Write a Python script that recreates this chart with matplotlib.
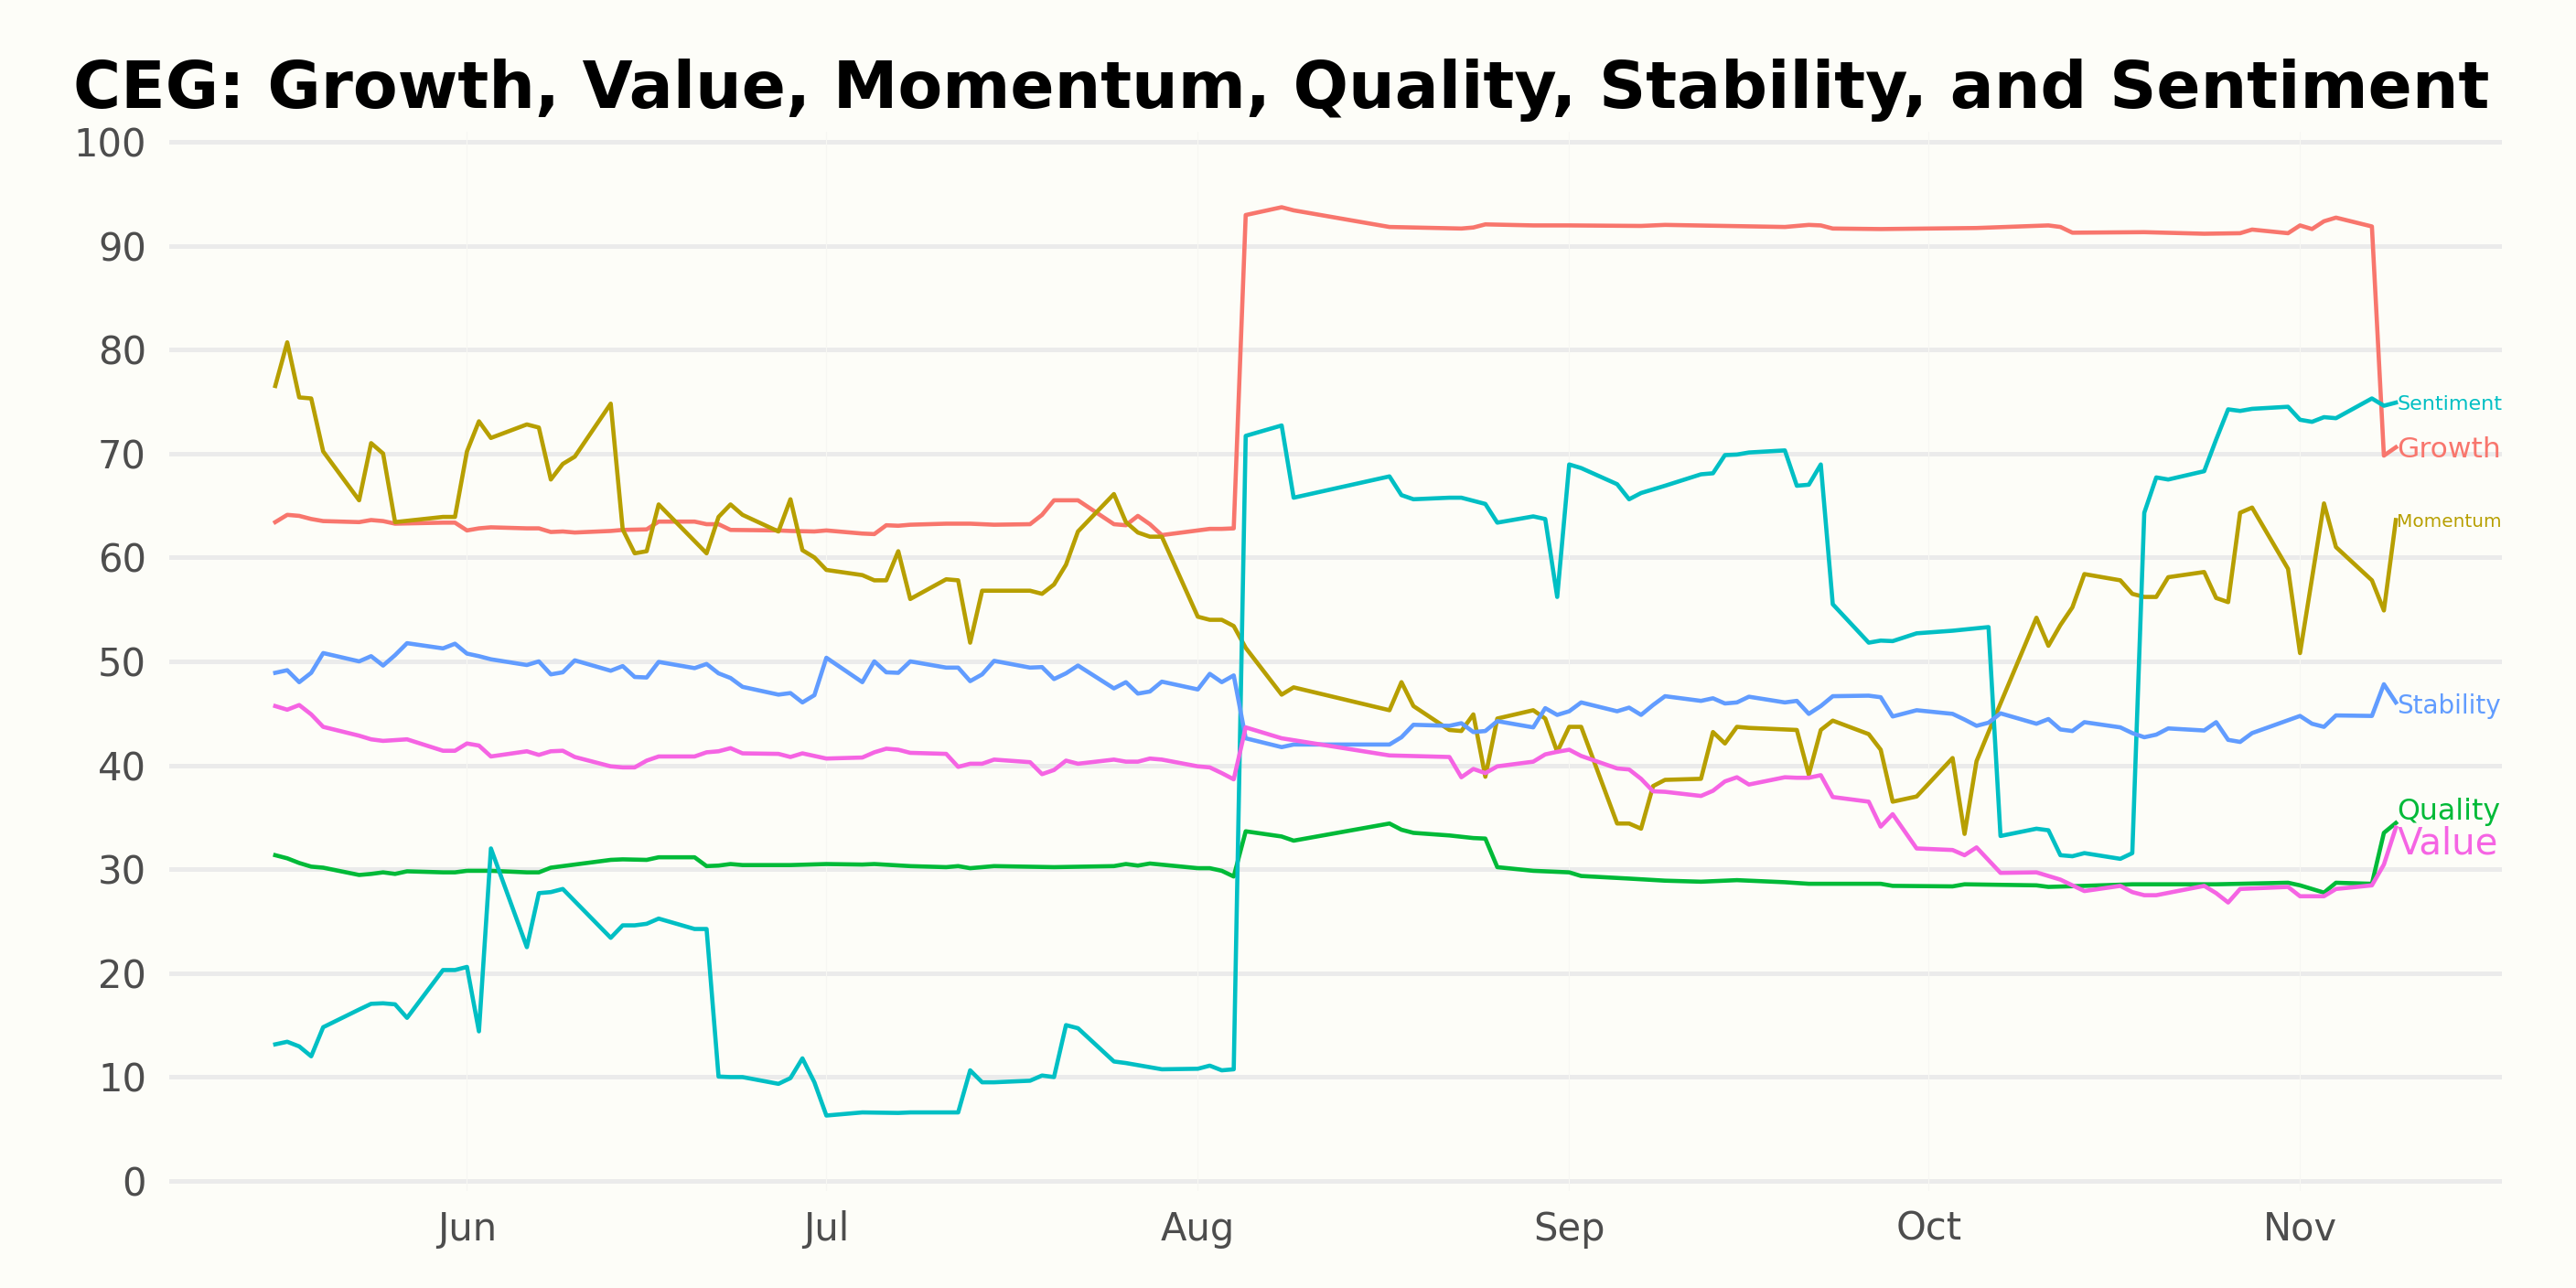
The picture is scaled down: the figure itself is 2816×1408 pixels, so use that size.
import matplotlib
matplotlib.use("Agg")
import matplotlib.pyplot as plt
import matplotlib.dates as mdates
import pandas as pd

YEAR = 2022
TITLE = "CEG: Growth, Value, Momentum, Quality, Stability, and Sentiment"

growth = [("05-16", 63.4), ("05-17", 64.1), ("05-18", 64.0), ("05-19", 63.7), ("05-20", 63.5),
          ("05-23", 63.4), ("05-24", 63.6), ("05-25", 63.5), ("05-26", 63.25), ("05-30", 63.35),
          ("05-31", 63.35), ("06-01", 62.6), ("06-02", 62.8), ("06-03", 62.9), ("06-06", 62.8),
          ("06-07", 62.8), ("06-08", 62.45), ("06-09", 62.5), ("06-10", 62.4), ("06-13", 62.55),
          ("06-14", 62.65), ("06-16", 62.7), ("06-17", 63.45), ("06-20", 63.45), ("06-21", 63.2),
          ("06-22", 63.2), ("06-23", 62.65), ("06-27", 62.6), ("06-28", 62.55), ("06-30", 62.5),
          ("07-01", 62.6), ("07-04", 62.3), ("07-05", 62.25), ("07-06", 63.1), ("07-07", 63.05),
          ("07-08", 63.15), ("07-11", 63.25), ("07-13", 63.25), ("07-15", 63.15), ("07-18", 63.2),
          ("07-19", 64.1), ("07-20", 65.5), ("07-22", 65.5), ("07-25", 63.2), ("07-26", 63.1),
          ("07-27", 64.0), ("07-28", 63.2), ("07-29", 62.15), ("08-01", 62.6), ("08-02", 62.75),
          ("08-03", 62.75), ("08-04", 62.8), ("08-05", 92.95), ("08-08", 93.7), ("08-09", 93.4),
          ("08-17", 91.8), ("08-19", 91.75), ("08-23", 91.65), ("08-24", 91.75), ("08-25", 92.05),
          ("08-29", 91.95), ("09-01", 91.95), ("09-07", 91.9), ("09-09", 92.0), ("09-19", 91.8),
          ("09-21", 92.0), ("09-22", 91.95), ("09-23", 91.65), ("09-27", 91.6), ("10-05", 91.7),
          ("10-11", 91.95), ("10-12", 91.8), ("10-13", 91.25), ("10-19", 91.3), ("10-24", 91.15),
          ("10-27", 91.2), ("10-28", 91.55), ("10-31", 91.2), ("11-01", 91.95), ("11-02", 91.6),
          ("11-03", 92.35), ("11-04", 92.7), ("11-07", 91.85), ("11-08", 69.8), ("11-09", 70.6)]

momentum = [("05-16", 76.5), ("05-17", 80.7), ("05-18", 75.4), ("05-19", 75.3), ("05-20", 70.2),
            ("05-23", 65.5), ("05-24", 71.0), ("05-25", 70.0), ("05-26", 63.4), ("05-30", 63.9),
            ("05-31", 63.9), ("06-01", 70.2), ("06-02", 73.1), ("06-03", 71.5), ("06-06", 72.8),
            ("06-07", 72.5), ("06-08", 67.5), ("06-09", 69.0), ("06-10", 69.7), ("06-13", 74.8),
            ("06-14", 62.7), ("06-15", 60.4), ("06-16", 60.6), ("06-17", 65.1), ("06-21", 60.4),
            ("06-22", 63.9), ("06-23", 65.1), ("06-24", 64.1), ("06-27", 62.5), ("06-28", 65.6),
            ("06-29", 60.7), ("06-30", 60.0), ("07-01", 58.8), ("07-04", 58.3), ("07-05", 57.8),
            ("07-06", 57.8), ("07-07", 60.6), ("07-08", 56.0), ("07-11", 57.9), ("07-12", 57.8),
            ("07-13", 51.8), ("07-14", 56.8), ("07-18", 56.8), ("07-19", 56.5), ("07-20", 57.4),
            ("07-21", 59.3), ("07-22", 62.5), ("07-25", 66.1), ("07-26", 63.4), ("07-27", 62.4),
            ("07-28", 62.0), ("07-29", 62.0), ("08-01", 54.3), ("08-02", 54.0), ("08-03", 54.0),
            ("08-04", 53.4), ("08-05", 51.3), ("08-08", 46.8), ("08-09", 47.5), ("08-17", 45.3),
            ("08-18", 48.0), ("08-19", 45.7), ("08-22", 43.4), ("08-23", 43.3), ("08-24", 44.9),
            ("08-25", 38.9), ("08-26", 44.5), ("08-29", 45.3), ("08-30", 44.5), ("08-31", 41.3),
            ("09-01", 43.7), ("09-02", 43.7), ("09-05", 34.4), ("09-06", 34.4), ("09-07", 33.9),
            ("09-08", 38.0), ("09-09", 38.6), ("09-12", 38.7), ("09-13", 43.2), ("09-14", 42.1),
            ("09-15", 43.7), ("09-16", 43.6), ("09-20", 43.4), ("09-21", 39.1), ("09-22", 43.4),
            ("09-23", 44.3), ("09-26", 43.0), ("09-27", 41.5), ("09-28", 36.5), ("09-30", 37.0),
            ("10-03", 40.7), ("10-04", 33.4), ("10-05", 40.4), ("10-06", 43.2), ("10-10", 54.2),
            ("10-11", 51.5), ("10-12", 53.5), ("10-13", 55.2), ("10-14", 58.4), ("10-17", 57.8),
            ("10-18", 56.5), ("10-19", 56.2), ("10-20", 56.2), ("10-21", 58.1), ("10-24", 58.6),
            ("10-25", 56.1), ("10-26", 55.7), ("10-27", 64.3), ("10-28", 64.8), ("10-31", 58.9),
            ("11-01", 50.8), ("11-03", 65.2), ("11-04", 61.0), ("11-07", 57.8), ("11-08", 54.9),
            ("11-09", 63.6)]

quality = [("05-16", 31.35), ("05-17", 31.05), ("05-18", 30.6), ("05-19", 30.25), ("05-20", 30.15),
           ("05-23", 29.45), ("05-24", 29.55), ("05-25", 29.7), ("05-26", 29.55), ("05-27", 29.8),
           ("05-30", 29.7), ("05-31", 29.7), ("06-01", 29.85), ("06-03", 29.85), ("06-06", 29.7),
           ("06-07", 29.7), ("06-08", 30.15), ("06-09", 30.3), ("06-10", 30.45), ("06-13", 30.9),
           ("06-14", 30.95), ("06-16", 30.9), ("06-17", 31.15), ("06-20", 31.15), ("06-21", 30.3),
           ("06-22", 30.35), ("06-23", 30.5), ("06-24", 30.4), ("06-28", 30.4), ("07-01", 30.5),
           ("07-04", 30.45), ("07-05", 30.5), ("07-08", 30.3), ("07-11", 30.2), ("07-12", 30.3),
           ("07-13", 30.1), ("07-15", 30.3), ("07-20", 30.2), ("07-25", 30.3), ("07-26", 30.5),
           ("07-27", 30.35), ("07-28", 30.55), ("08-01", 30.1), ("08-02", 30.1), ("08-03", 29.85),
           ("08-04", 29.3), ("08-05", 33.65), ("08-08", 33.15), ("08-09", 32.75), ("08-17", 34.4),
           ("08-18", 33.8), ("08-19", 33.5), ("08-22", 33.25), ("08-24", 33.0), ("08-25", 32.95),
           ("08-26", 30.2), ("08-29", 29.85), ("09-01", 29.7), ("09-02", 29.35), ("09-06", 29.1),
           ("09-09", 28.9), ("09-12", 28.8), ("09-15", 28.95), ("09-19", 28.75), ("09-21", 28.6),
           ("09-27", 28.6), ("09-28", 28.4), ("10-03", 28.35), ("10-04", 28.55), ("10-10", 28.45),
           ("10-11", 28.3), ("10-14", 28.4), ("10-18", 28.55), ("10-25", 28.55), ("10-31", 28.7),
           ("11-01", 28.45), ("11-03", 27.75), ("11-04", 28.7), ("11-07", 28.6), ("11-08", 33.5),
           ("11-09", 34.45)]

sentiment = [("05-16", 13.15), ("05-17", 13.4), ("05-18", 12.95), ("05-19", 12.0), ("05-20", 14.8),
             ("05-23", 16.5), ("05-24", 17.05), ("05-25", 17.1), ("05-26", 17.0), ("05-27", 15.7),
             ("05-30", 20.3), ("05-31", 20.3), ("06-01", 20.6), ("06-02", 14.4), ("06-03", 32.0),
             ("06-06", 22.5), ("06-07", 27.7), ("06-08", 27.8), ("06-09", 28.1), ("06-13", 23.4),
             ("06-14", 24.6), ("06-15", 24.6), ("06-16", 24.75), ("06-17", 25.25), ("06-20", 24.25),
             ("06-21", 24.25), ("06-22", 10.05), ("06-23", 10.0), ("06-24", 10.0), ("06-27", 9.35),
             ("06-28", 9.9), ("06-29", 11.8), ("06-30", 9.5), ("07-01", 6.3), ("07-04", 6.6),
             ("07-07", 6.55), ("07-08", 6.6), ("07-12", 6.6), ("07-13", 10.65), ("07-14", 9.5),
             ("07-15", 9.5), ("07-18", 9.65), ("07-19", 10.15), ("07-20", 10.0), ("07-21", 15.0),
             ("07-22", 14.7), ("07-25", 11.5), ("07-26", 11.35), ("07-29", 10.75), ("08-01", 10.8),
             ("08-02", 11.1), ("08-03", 10.65), ("08-04", 10.75), ("08-05", 71.7), ("08-08", 72.7),
             ("08-09", 65.75), ("08-17", 67.8), ("08-18", 66.0), ("08-19", 65.6), ("08-22", 65.75),
             ("08-23", 65.75), ("08-24", 65.45), ("08-25", 65.15), ("08-26", 63.35), ("08-29", 63.95),
             ("08-30", 63.7), ("08-31", 56.2), ("09-01", 68.95), ("09-02", 68.6), ("09-05", 67.05),
             ("09-06", 65.6), ("09-07", 66.2), ("09-08", 66.55), ("09-09", 66.9), ("09-12", 68.0),
             ("09-13", 68.1), ("09-14", 69.85), ("09-15", 69.9), ("09-16", 70.1), ("09-19", 70.3),
             ("09-20", 66.9), ("09-21", 67.0), ("09-22", 68.95), ("09-23", 55.5), ("09-26", 51.8),
             ("09-27", 52.0), ("09-28", 51.95), ("09-30", 52.7), ("10-03", 52.95), ("10-06", 53.3),
             ("10-07", 33.2), ("10-10", 33.9), ("10-11", 33.75), ("10-12", 31.35), ("10-13", 31.25),
             ("10-14", 31.55), ("10-17", 31.0), ("10-18", 31.55), ("10-19", 64.3), ("10-20", 67.7),
             ("10-21", 67.5), ("10-24", 68.3), ("10-25", 71.35), ("10-26", 74.25), ("10-27", 74.1),
             ("10-28", 74.3), ("10-31", 74.5), ("11-01", 73.25), ("11-02", 73.05), ("11-03", 73.5),
             ("11-04", 73.4), ("11-07", 75.3), ("11-08", 74.6), ("11-09", 74.9)]

stability = [("05-16", 48.9), ("05-17", 49.15), ("05-18", 48.0), ("05-19", 48.9), ("05-20", 50.8),
             ("05-23", 50.0), ("05-24", 50.5), ("05-25", 49.6), ("05-26", 50.6), ("05-27", 51.75),
             ("05-30", 51.25), ("05-31", 51.7), ("06-01", 50.75), ("06-02", 50.5), ("06-03", 50.2),
             ("06-06", 49.65), ("06-07", 50.0), ("06-08", 48.75), ("06-09", 48.95), ("06-10", 50.1),
             ("06-13", 49.1), ("06-14", 49.55), ("06-15", 48.5), ("06-16", 48.45), ("06-17", 49.95),
             ("06-20", 49.35), ("06-21", 49.75), ("06-22", 48.85), ("06-23", 48.4), ("06-24", 47.55),
             ("06-27", 46.8), ("06-28", 46.95), ("06-29", 46.05), ("06-30", 46.75), ("07-01", 50.35),
             ("07-04", 48.0), ("07-05", 50.0), ("07-06", 48.95), ("07-07", 48.9), ("07-08", 50.0),
             ("07-11", 49.4), ("07-12", 49.4), ("07-13", 48.1), ("07-14", 48.75), ("07-15", 50.05),
             ("07-18", 49.4), ("07-19", 49.45), ("07-20", 48.3), ("07-21", 48.85), ("07-22", 49.6),
             ("07-25", 47.4), ("07-26", 48.0), ("07-27", 46.9), ("07-28", 47.1), ("07-29", 48.05),
             ("08-01", 47.3), ("08-02", 48.8), ("08-03", 48.0), ("08-04", 48.65), ("08-05", 42.6),
             ("08-08", 41.75), ("08-09", 42.0), ("08-17", 42.0), ("08-18", 42.7), ("08-19", 43.9),
             ("08-22", 43.8), ("08-23", 44.05), ("08-24", 43.2), ("08-25", 43.3), ("08-26", 44.25),
             ("08-29", 43.65), ("08-30", 45.5), ("08-31", 44.85), ("09-01", 45.2), ("09-02", 46.05),
             ("09-05", 45.2), ("09-06", 45.55), ("09-07", 44.85), ("09-08", 45.8), ("09-09", 46.65),
             ("09-12", 46.2), ("09-13", 46.45), ("09-14", 45.95), ("09-15", 46.05), ("09-16", 46.6),
             ("09-19", 46.05), ("09-20", 46.2), ("09-21", 44.95), ("09-22", 45.7), ("09-23", 46.65),
             ("09-26", 46.7), ("09-27", 46.55), ("09-28", 44.7), ("09-30", 45.3), ("10-03", 44.95),
             ("10-04", 44.4), ("10-05", 43.8), ("10-06", 44.1), ("10-07", 45.0), ("10-10", 44.0),
             ("10-11", 44.45), ("10-12", 43.45), ("10-13", 43.3), ("10-14", 44.15), ("10-17", 43.65),
             ("10-18", 43.1), ("10-19", 42.7), ("10-20", 42.95), ("10-21", 43.55), ("10-24", 43.35),
             ("10-25", 44.15), ("10-26", 42.45), ("10-27", 42.25), ("10-28", 43.1), ("11-01", 44.75),
             ("11-02", 44.0), ("11-03", 43.7), ("11-04", 44.8), ("11-07", 44.75), ("11-08", 47.8),
             ("11-09", 46.05)]

value = [("05-16", 45.7), ("05-17", 45.35), ("05-18", 45.8), ("05-19", 44.9), ("05-20", 43.7),
         ("05-23", 42.85), ("05-24", 42.5), ("05-25", 42.35), ("05-27", 42.5), ("05-30", 41.4),
         ("05-31", 41.4), ("06-01", 42.1), ("06-02", 41.9), ("06-03", 40.85), ("06-06", 41.35),
         ("06-07", 41.0), ("06-08", 41.35), ("06-09", 41.4), ("06-10", 40.8), ("06-13", 39.9),
         ("06-14", 39.8), ("06-15", 39.8), ("06-16", 40.45), ("06-17", 40.85), ("06-20", 40.85),
         ("06-21", 41.25), ("06-22", 41.35), ("06-23", 41.65), ("06-24", 41.15), ("06-27", 41.1),
         ("06-28", 40.8), ("06-29", 41.15), ("07-01", 40.65), ("07-04", 40.75), ("07-05", 41.25),
         ("07-06", 41.6), ("07-07", 41.5), ("07-08", 41.2), ("07-11", 41.1), ("07-12", 39.85),
         ("07-13", 40.15), ("07-14", 40.15), ("07-15", 40.55), ("07-18", 40.3), ("07-19", 39.15),
         ("07-20", 39.55), ("07-21", 40.45), ("07-22", 40.15), ("07-25", 40.55), ("07-26", 40.35),
         ("07-27", 40.35), ("07-28", 40.65), ("07-29", 40.55), ("08-01", 39.9), ("08-02", 39.8),
         ("08-03", 39.25), ("08-04", 38.65), ("08-05", 43.65), ("08-08", 42.6), ("08-17", 40.95),
         ("08-22", 40.8), ("08-23", 38.85), ("08-24", 39.65), ("08-25", 39.25), ("08-26", 39.9),
         ("08-29", 40.35), ("08-30", 41.05), ("08-31", 41.3), ("09-01", 41.5), ("09-02", 40.9),
         ("09-05", 39.7), ("09-06", 39.6), ("09-07", 38.7), ("09-08", 37.5), ("09-09", 37.45),
         ("09-12", 37.05), ("09-13", 37.55), ("09-14", 38.45), ("09-15", 38.85), ("09-16", 38.15),
         ("09-19", 38.85), ("09-20", 38.8), ("09-21", 38.8), ("09-22", 39.05), ("09-23", 36.95),
         ("09-26", 36.5), ("09-27", 34.1), ("09-28", 35.3), ("09-30", 32.0), ("10-03", 31.85),
         ("10-04", 31.35), ("10-05", 32.1), ("10-07", 29.65), ("10-10", 29.7), ("10-12", 29.0),
         ("10-14", 27.9), ("10-17", 28.4), ("10-18", 27.8), ("10-19", 27.5), ("10-20", 27.5),
         ("10-24", 28.4), ("10-25", 27.7), ("10-26", 26.8), ("10-27", 28.1), ("10-31", 28.3),
         ("11-01", 27.4), ("11-03", 27.4), ("11-04", 28.1), ("11-07", 28.45), ("11-08", 30.45),
         ("11-09", 34.0)]

SERIES = [("Growth", growth, "#F8766D"),
          ("Momentum", momentum, "#B79F00"),
          ("Quality", quality, "#00BA38"),
          ("Sentiment", sentiment, "#00BFC4"),
          ("Stability", stability, "#619CFF"),
          ("Value", value, "#F564E3")]

LABEL_SIZE = {"Growth": 11.3, "Momentum": 7.2, "Quality": 11.4,
              "Sentiment": 8.0, "Stability": 10.0, "Value": 14.5}
LABEL_NUDGE = {"Growth": 0.0, "Momentum": 0.0, "Quality": 1.3,
               "Sentiment": 0.0, "Stability": -0.2, "Value": -1.2}

BG = "#FDFDF8"
GRID = "#EBEBEB"
TICK = "#4D4D4D"

fig = plt.figure(figsize=(14.08, 7.04), dpi=200, facecolor=BG)
ax = fig.add_axes([185 / 2816, 1 - 1302.4 / 1408, 2550 / 2816, (1302.4 - 143.6) / 1408])
ax.set_facecolor(BG)

for name, data, color in SERIES:
    d = pd.to_datetime([f"{YEAR}-{m}" for m, _ in data])
    v = [val for _, val in data]
    ax.plot(d, v, color=color, lw=1.65, zorder=2)
    fs = LABEL_SIZE[name]
    ax.annotate(name, xy=(d[-1], v[-1] + LABEL_NUDGE[name]),
                xytext=(0.4, -0.3645 * fs), textcoords="offset points",
                ha="left", va="baseline", fontsize=fs, color=color,
                annotation_clip=False, zorder=3)

ax.margins(x=0.05)
ax.set_ylim(-1, 101)
ax.set_yticks(range(0, 101, 10))
ax.xaxis.set_major_locator(mdates.MonthLocator())
ax.xaxis.set_major_formatter(mdates.DateFormatter("%b"))

ax.set_axisbelow(True)
ax.grid(axis="y", color=GRID, lw=1.8, zorder=0.5)
for t in ax.get_xticks():
    ax.axvline(t, color="#F7F7F3", lw=0.4, zorder=0.7)

for s in ax.spines.values():
    s.set_visible(False)
ax.tick_params(axis="y", length=0, pad=9, labelsize=15, labelcolor=TICK)
ax.tick_params(axis="x", length=0, pad=7.4, labelsize=15, labelcolor=TICK)

fig.text(1401 / 2816, 1 - 118 / 1408, TITLE, ha="center", va="baseline",
         fontsize=25.6, fontweight="bold", color="black")

fig.savefig("out.png", dpi=200, facecolor=BG)
